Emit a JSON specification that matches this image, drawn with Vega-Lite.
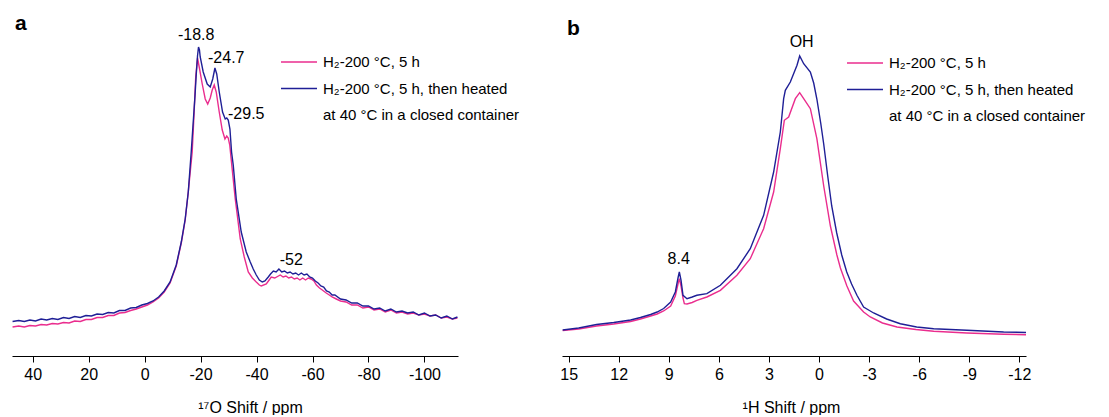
{
  "$schema": "https://vega.github.io/schema/vega-lite/v6.json",
  "background": "white",
  "padding": {"left": 9, "top": 13, "right": 0, "bottom": 0},
  "spacing": 104,
  "bounds": "flush",
  "config": {
    "view": {"stroke": null},
    "font": "Liberation Sans",
    "axis": {
      "grid": false,
      "domainColor": "black",
      "domainWidth": 1,
      "tickColor": "black",
      "tickWidth": 1,
      "labelColor": "black",
      "labelFont": "Liberation Sans",
      "labelFontSize": 16,
      "labelPadding": 4,
      "titleColor": "black",
      "titleFont": "Liberation Sans",
      "titleFontSize": 16,
      "titleFontWeight": "normal",
      "titleBaseline": "middle",
      "titleY": 51
    },
    "legend": {
      "orient": "none",
      "title": null,
      "symbolType": "M-1.8,0H1.8",
      "symbolSize": 400,
      "symbolStrokeWidth": 1.5,
      "labelOffset": 13,
      "rowPadding": 7.5,
      "labelFont": "Liberation Sans",
      "labelFontSize": 15,
      "labelColor": "black",
      "labelLimit": 0,
      "padding": 0
    },
    "title": {"font": "Liberation Sans", "fontSize": 21, "fontWeight": "bold", "color": "black", "anchor": "start", "frame": "group"}
  },
  "datasets": {
    "oxygen": [
      {"sample":"A","shift":47.2,"intensity":31},{"sample":"A","shift":45,"intensity":32},{"sample":"A","shift":43,"intensity":31},{"sample":"A","shift":41,"intensity":32.5},{"sample":"A","shift":39,"intensity":32},{"sample":"A","shift":37,"intensity":33.5},{"sample":"A","shift":35,"intensity":33},{"sample":"A","shift":33,"intensity":34.5},{"sample":"A","shift":31,"intensity":34},{"sample":"A","shift":29,"intensity":35.5},{"sample":"A","shift":27,"intensity":35},{"sample":"A","shift":25,"intensity":37},{"sample":"A","shift":23,"intensity":36.5},{"sample":"A","shift":21,"intensity":38.5},{"sample":"A","shift":19,"intensity":38.5},{"sample":"A","shift":17,"intensity":40.5},{"sample":"A","shift":15,"intensity":40.5},{"sample":"A","shift":13,"intensity":42.5},{"sample":"A","shift":11,"intensity":42.5},{"sample":"A","shift":9,"intensity":45},{"sample":"A","shift":7,"intensity":45.5},{"sample":"A","shift":5,"intensity":47.5},{"sample":"A","shift":3,"intensity":49},{"sample":"A","shift":1,"intensity":51},{"sample":"A","shift":-1,"intensity":53},{"sample":"A","shift":-3,"intensity":56},{"sample":"A","shift":-5,"intensity":60},{"sample":"A","shift":-7,"intensity":66},{"sample":"A","shift":-9.1,"intensity":75},{"sample":"A","shift":-11.3,"intensity":92},{"sample":"A","shift":-13.1,"intensity":115},{"sample":"A","shift":-14.5,"intensity":138},{"sample":"A","shift":-15.6,"intensity":166},{"sample":"A","shift":-17.0,"intensity":206},{"sample":"A","shift":-17.7,"intensity":246},{"sample":"A","shift":-18.26,"intensity":281},{"sample":"A","shift":-18.91,"intensity":300},{"sample":"A","shift":-19.51,"intensity":291},{"sample":"A","shift":-20.59,"intensity":274},{"sample":"A","shift":-21.66,"intensity":259},{"sample":"A","shift":-22.55,"intensity":254},{"sample":"A","shift":-23.45,"intensity":260},{"sample":"A","shift":-24.16,"intensity":268},{"sample":"A","shift":-24.88,"intensity":273},{"sample":"A","shift":-25.59,"intensity":266},{"sample":"A","shift":-26.67,"intensity":246},{"sample":"A","shift":-27.74,"intensity":228},{"sample":"A","shift":-28.71,"intensity":219},{"sample":"A","shift":-29.35,"intensity":222},{"sample":"A","shift":-29.89,"intensity":220},{"sample":"A","shift":-30.42,"intensity":213},{"sample":"A","shift":-30.85,"intensity":201},{"sample":"A","shift":-32.39,"intensity":159},{"sample":"A","shift":-34.18,"intensity":119},{"sample":"A","shift":-35.61,"intensity":101},{"sample":"A","shift":-37.04,"intensity":86},{"sample":"A","shift":-38.5,"intensity":80},{"sample":"A","shift":-39.9,"intensity":76},{"sample":"A","shift":-41.0,"intensity":73},{"sample":"A","shift":-41.69,"intensity":72},{"sample":"A","shift":-43.48,"intensity":74},{"sample":"A","shift":-44.5,"intensity":78},{"sample":"A","shift":-45.26,"intensity":81},{"sample":"A","shift":-46.5,"intensity":80},{"sample":"A","shift":-48.48,"intensity":83},{"sample":"A","shift":-49.5,"intensity":81},{"sample":"A","shift":-50.5,"intensity":82},{"sample":"A","shift":-51.5,"intensity":80},{"sample":"A","shift":-52.5,"intensity":81},{"sample":"A","shift":-53.5,"intensity":79},{"sample":"A","shift":-54.5,"intensity":80},{"sample":"A","shift":-55.5,"intensity":78},{"sample":"A","shift":-56.5,"intensity":80},{"sample":"A","shift":-57.5,"intensity":78},{"sample":"A","shift":-58.5,"intensity":80},{"sample":"A","shift":-59.5,"intensity":79},{"sample":"A","shift":-60.5,"intensity":77},{"sample":"A","shift":-61.4,"intensity":73},{"sample":"A","shift":-62.5,"intensity":70},{"sample":"A","shift":-63.5,"intensity":68},{"sample":"A","shift":-64.9,"intensity":65},{"sample":"A","shift":-66,"intensity":63},{"sample":"A","shift":-67,"intensity":61},{"sample":"A","shift":-68.5,"intensity":59},{"sample":"A","shift":-70,"intensity":57},{"sample":"A","shift":-72,"intensity":56},{"sample":"A","shift":-74,"intensity":53},{"sample":"A","shift":-76,"intensity":53},{"sample":"A","shift":-78,"intensity":50},{"sample":"A","shift":-80,"intensity":51},{"sample":"A","shift":-82,"intensity":48},{"sample":"A","shift":-84,"intensity":49},{"sample":"A","shift":-86,"intensity":46},{"sample":"A","shift":-88,"intensity":48},{"sample":"A","shift":-90,"intensity":45},{"sample":"A","shift":-92,"intensity":46},{"sample":"A","shift":-94,"intensity":44},{"sample":"A","shift":-96,"intensity":45},{"sample":"A","shift":-98,"intensity":43},{"sample":"A","shift":-100,"intensity":44},{"sample":"A","shift":-102,"intensity":42},{"sample":"A","shift":-104,"intensity":43},{"sample":"A","shift":-106,"intensity":40},{"sample":"A","shift":-108,"intensity":41},{"sample":"A","shift":-110,"intensity":39},{"sample":"A","shift":-111.8,"intensity":40},
      {"sample":"B","shift":47.2,"intensity":36.5},{"sample":"B","shift":45,"intensity":37.5},{"sample":"B","shift":43,"intensity":36.5},{"sample":"B","shift":41,"intensity":38},{"sample":"B","shift":39,"intensity":37},{"sample":"B","shift":37,"intensity":39},{"sample":"B","shift":35,"intensity":38},{"sample":"B","shift":33,"intensity":39.5},{"sample":"B","shift":31,"intensity":38.5},{"sample":"B","shift":29,"intensity":40.5},{"sample":"B","shift":27,"intensity":39.5},{"sample":"B","shift":25,"intensity":41.5},{"sample":"B","shift":23,"intensity":40.5},{"sample":"B","shift":21,"intensity":42.5},{"sample":"B","shift":19,"intensity":42},{"sample":"B","shift":17,"intensity":44},{"sample":"B","shift":15,"intensity":43.5},{"sample":"B","shift":13,"intensity":45.5},{"sample":"B","shift":11,"intensity":45},{"sample":"B","shift":9,"intensity":47.5},{"sample":"B","shift":7,"intensity":47.5},{"sample":"B","shift":5,"intensity":50},{"sample":"B","shift":3,"intensity":50.5},{"sample":"B","shift":1,"intensity":53},{"sample":"B","shift":-1,"intensity":54.5},{"sample":"B","shift":-3,"intensity":57},{"sample":"B","shift":-5,"intensity":61},{"sample":"B","shift":-7,"intensity":67},{"sample":"B","shift":-9.1,"intensity":76},{"sample":"B","shift":-11.3,"intensity":93},{"sample":"B","shift":-13.1,"intensity":116},{"sample":"B","shift":-14.5,"intensity":139},{"sample":"B","shift":-15.6,"intensity":166},{"sample":"B","shift":-16.65,"intensity":206},{"sample":"B","shift":-17.37,"intensity":236},{"sample":"B","shift":-18.0,"intensity":262},{"sample":"B","shift":-18.44,"intensity":283},{"sample":"B","shift":-18.9,"intensity":302},{"sample":"B","shift":-19.26,"intensity":311},{"sample":"B","shift":-19.6,"intensity":308},{"sample":"B","shift":-19.87,"intensity":301},{"sample":"B","shift":-20.94,"intensity":286},{"sample":"B","shift":-22.37,"intensity":274},{"sample":"B","shift":-23.45,"intensity":271},{"sample":"B","shift":-24.34,"intensity":279},{"sample":"B","shift":-25.13,"intensity":290},{"sample":"B","shift":-25.77,"intensity":284},{"sample":"B","shift":-26.67,"intensity":266},{"sample":"B","shift":-27.85,"intensity":246},{"sample":"B","shift":-28.81,"intensity":239},{"sample":"B","shift":-29.35,"intensity":240},{"sample":"B","shift":-29.89,"intensity":238},{"sample":"B","shift":-30.49,"intensity":229},{"sample":"B","shift":-31.07,"intensity":206},{"sample":"B","shift":-31.67,"intensity":193},{"sample":"B","shift":-32.75,"intensity":159},{"sample":"B","shift":-34.53,"intensity":126},{"sample":"B","shift":-36.32,"intensity":106},{"sample":"B","shift":-37.75,"intensity":96},{"sample":"B","shift":-38.82,"intensity":89},{"sample":"B","shift":-39.9,"intensity":83},{"sample":"B","shift":-41,"intensity":78},{"sample":"B","shift":-42.05,"intensity":76},{"sample":"B","shift":-43,"intensity":77},{"sample":"B","shift":-44.19,"intensity":81},{"sample":"B","shift":-45,"intensity":84},{"sample":"B","shift":-46,"intensity":87},{"sample":"B","shift":-47,"intensity":86},{"sample":"B","shift":-48,"intensity":89},{"sample":"B","shift":-49,"intensity":86},{"sample":"B","shift":-50,"intensity":87},{"sample":"B","shift":-51,"intensity":85},{"sample":"B","shift":-52,"intensity":86},{"sample":"B","shift":-53,"intensity":84},{"sample":"B","shift":-54,"intensity":85},{"sample":"B","shift":-55,"intensity":83},{"sample":"B","shift":-56,"intensity":85},{"sample":"B","shift":-57,"intensity":83},{"sample":"B","shift":-58,"intensity":84},{"sample":"B","shift":-59,"intensity":81},{"sample":"B","shift":-60,"intensity":80},{"sample":"B","shift":-61,"intensity":77},{"sample":"B","shift":-62,"intensity":75},{"sample":"B","shift":-63,"intensity":72},{"sample":"B","shift":-64,"intensity":71},{"sample":"B","shift":-65,"intensity":67},{"sample":"B","shift":-66,"intensity":66},{"sample":"B","shift":-67,"intensity":63},{"sample":"B","shift":-68,"intensity":63},{"sample":"B","shift":-70,"intensity":59},{"sample":"B","shift":-72,"intensity":58},{"sample":"B","shift":-74,"intensity":55},{"sample":"B","shift":-76,"intensity":55},{"sample":"B","shift":-78,"intensity":52},{"sample":"B","shift":-80,"intensity":52},{"sample":"B","shift":-82,"intensity":49},{"sample":"B","shift":-84,"intensity":50},{"sample":"B","shift":-86,"intensity":47},{"sample":"B","shift":-88,"intensity":49},{"sample":"B","shift":-90,"intensity":46},{"sample":"B","shift":-92,"intensity":47},{"sample":"B","shift":-94,"intensity":45},{"sample":"B","shift":-96,"intensity":46},{"sample":"B","shift":-98,"intensity":43},{"sample":"B","shift":-100,"intensity":45},{"sample":"B","shift":-102,"intensity":42},{"sample":"B","shift":-104,"intensity":43},{"sample":"B","shift":-106,"intensity":40},{"sample":"B","shift":-108,"intensity":42},{"sample":"B","shift":-110,"intensity":39},{"sample":"B","shift":-111.8,"intensity":41}
    ],
    "oxygenLabels": [
      {"shift":-18.44,"intensity":322.7,"label":"-18.8"},
      {"shift":-29.17,"intensity":300,"label":"-24.7"},
      {"shift":-36.32,"intensity":244.3,"label":"-29.5"},
      {"shift":-52.42,"intensity":98,"label":"-52"}
    ],
    "proton": [
      {"sample":"A","shift":15.36,"intensity":27.5},{"sample":"A","shift":14.4,"intensity":29},{"sample":"A","shift":13.33,"intensity":32},{"sample":"A","shift":12.3,"intensity":34},{"sample":"A","shift":11.29,"intensity":36.5},{"sample":"A","shift":10.7,"intensity":39},{"sample":"A","shift":10.09,"intensity":42},{"sample":"A","shift":9.7,"intensity":44},{"sample":"A","shift":9.31,"intensity":47},{"sample":"A","shift":8.89,"intensity":52},{"sample":"A","shift":8.61,"intensity":62},{"sample":"A","shift":8.45,"intensity":74},{"sample":"A","shift":8.37,"intensity":79.3},{"sample":"A","shift":8.27,"intensity":72},{"sample":"A","shift":8.15,"intensity":60},{"sample":"A","shift":8.07,"intensity":54.3},{"sample":"A","shift":7.91,"intensity":54},{"sample":"A","shift":7.6,"intensity":55.5},{"sample":"A","shift":7.32,"intensity":57.7},{"sample":"A","shift":6.72,"intensity":61},{"sample":"A","shift":5.91,"intensity":67.7},{"sample":"A","shift":4.92,"intensity":82.7},{"sample":"A","shift":4.12,"intensity":99.3},{"sample":"A","shift":3.32,"intensity":129.3},{"sample":"A","shift":2.72,"intensity":166},{"sample":"A","shift":2.32,"intensity":209.3},{"sample":"A","shift":2.08,"intensity":237.7},{"sample":"A","shift":1.82,"intensity":241},{"sample":"A","shift":1.42,"intensity":259.3},{"sample":"A","shift":1.16,"intensity":265.3},{"sample":"A","shift":0.92,"intensity":259.3},{"sample":"A","shift":0.52,"intensity":249.3},{"sample":"A","shift":0.13,"intensity":219.3},{"sample":"A","shift":-0.28,"intensity":172},{"sample":"A","shift":-0.68,"intensity":132},{"sample":"A","shift":-1.07,"intensity":103},{"sample":"A","shift":-1.28,"intensity":90},{"sample":"A","shift":-1.67,"intensity":72},{"sample":"A","shift":-2.07,"intensity":57},{"sample":"A","shift":-2.67,"intensity":46},{"sample":"A","shift":-3.07,"intensity":41},{"sample":"A","shift":-3.8,"intensity":35},{"sample":"A","shift":-4.67,"intensity":31},{"sample":"A","shift":-5.8,"intensity":28.5},{"sample":"A","shift":-6.87,"intensity":26.7},{"sample":"A","shift":-8.86,"intensity":25},{"sample":"A","shift":-11.06,"intensity":23.7},{"sample":"A","shift":-12.4,"intensity":23.3},
      {"sample":"B","shift":15.36,"intensity":28},{"sample":"B","shift":14.4,"intensity":30},{"sample":"B","shift":13.33,"intensity":33.5},{"sample":"B","shift":12.3,"intensity":35.5},{"sample":"B","shift":11.29,"intensity":38},{"sample":"B","shift":10.7,"intensity":40.5},{"sample":"B","shift":10.09,"intensity":43.5},{"sample":"B","shift":9.7,"intensity":46},{"sample":"B","shift":9.31,"intensity":49.5},{"sample":"B","shift":8.89,"intensity":56},{"sample":"B","shift":8.61,"intensity":66},{"sample":"B","shift":8.45,"intensity":80},{"sample":"B","shift":8.37,"intensity":86},{"sample":"B","shift":8.27,"intensity":78},{"sample":"B","shift":8.15,"intensity":62.7},{"sample":"B","shift":7.91,"intensity":59.3},{"sample":"B","shift":7.6,"intensity":61},{"sample":"B","shift":7.32,"intensity":62.7},{"sample":"B","shift":6.72,"intensity":64.3},{"sample":"B","shift":5.91,"intensity":72.7},{"sample":"B","shift":4.92,"intensity":89.3},{"sample":"B","shift":4.12,"intensity":109.3},{"sample":"B","shift":3.32,"intensity":142.7},{"sample":"B","shift":2.72,"intensity":186},{"sample":"B","shift":2.32,"intensity":226},{"sample":"B","shift":2.12,"intensity":259.3},{"sample":"B","shift":2.02,"intensity":267.7},{"sample":"B","shift":1.72,"intensity":276},{"sample":"B","shift":1.32,"intensity":292.7},{"sample":"B","shift":1.16,"intensity":302},{"sample":"B","shift":0.92,"intensity":294.3},{"sample":"B","shift":0.52,"intensity":286},{"sample":"B","shift":0.32,"intensity":275},{"sample":"B","shift":0.13,"intensity":259},{"sample":"B","shift":-0.1,"intensity":235},{"sample":"B","shift":-0.28,"intensity":214},{"sample":"B","shift":-0.52,"intensity":182},{"sample":"B","shift":-0.76,"intensity":152},{"sample":"B","shift":-1.06,"intensity":125},{"sample":"B","shift":-1.36,"intensity":103},{"sample":"B","shift":-1.66,"intensity":86},{"sample":"B","shift":-1.95,"intensity":74},{"sample":"B","shift":-2.27,"intensity":62.7},{"sample":"B","shift":-2.67,"intensity":51},{"sample":"B","shift":-3.27,"intensity":45},{"sample":"B","shift":-4.05,"intensity":39},{"sample":"B","shift":-4.87,"intensity":34.3},{"sample":"B","shift":-5.85,"intensity":31},{"sample":"B","shift":-6.87,"intensity":29.3},{"sample":"B","shift":-8.86,"intensity":27.7},{"sample":"B","shift":-11.06,"intensity":26},{"sample":"B","shift":-12.4,"intensity":25.5}
    ],
    "protonLabels": [
      {"shift":8.41,"intensity":99.3,"label":"8.4"},
      {"shift":1.04,"intensity":316,"label":"OH"}
    ]
  },
  "hconcat": [
    {
      "width": 446,
      "height": 324,
      "title": {"text": "a", "dx": 3, "offset": -7},
      "layer": [
        {
          "data": {"name": "oxygen"},
          "mark": {"type": "line", "strokeWidth": 1.4},
          "encoding": {
            "x": {
              "field": "shift", "type": "quantitative",
              "scale": {"domain": [47.4, -112], "nice": false, "zero": false},
              "axis": {
                "values": [40, 30, 20, 10, 0, -10, -20, -30, -40, -50, -60, -70, -80, -90, -100, -110],
                "labelExpr": "datum.value % 20 === 0 ? '' + datum.value : ''",
                "tickSize": {"condition": {"test": "datum.value % 20 === 0", "value": 6}, "value": 3.5},
                "title": "¹⁷O Shift / ppm",
                "titleX": 238
              }
            },
            "y": {"field": "intensity", "type": "quantitative", "scale": {"domain": [2, 326], "nice": false, "zero": false}, "axis": null},
            "color": {
              "field": "sample", "type": "nominal",
              "scale": {"domain": ["A", "B", "C"], "range": ["#ea2d8e", "#1f1f96", "rgba(0,0,0,0)"]},
              "legend": {
                "legendX": 276, "legendY": 19,
                "labelExpr": "datum.value === 'A' ? 'H₂-200 °C, 5 h' : datum.value === 'B' ? 'H₂-200 °C, 5 h, then heated' : 'at 40 °C in a closed container'"
              }
            }
          }
        },
        {
          "data": {"name": "oxygenLabels"},
          "mark": {"type": "text", "fontSize": 16, "font": "Liberation Sans", "color": "black", "align": "center", "baseline": "middle"},
          "encoding": {
            "x": {"field": "shift", "type": "quantitative"},
            "y": {"field": "intensity", "type": "quantitative"},
            "text": {"field": "label"}
          }
        }
      ]
    },
    {
      "width": 464,
      "height": 324,
      "title": {"text": "b", "dx": 5, "offset": -7},
      "layer": [
        {
          "data": {"name": "proton"},
          "mark": {"type": "line", "strokeWidth": 1.4},
          "encoding": {
            "x": {
              "field": "shift", "type": "quantitative",
              "scale": {"domain": [15.4, -12.4], "nice": false, "zero": false},
              "axis": {
                "values": [15, 13.5, 12, 10.5, 9, 7.5, 6, 4.5, 3, 1.5, 0, -1.5, -3, -4.5, -6, -7.5, -9, -10.5, -12],
                "labelExpr": "datum.value % 3 === 0 ? '' + datum.value : ''",
                "tickSize": {"condition": {"test": "datum.value % 3 === 0", "value": 6}, "value": 3.5},
                "title": "¹H Shift / ppm",
                "titleX": 229
              }
            },
            "y": {"field": "intensity", "type": "quantitative", "scale": {"domain": [2, 326], "nice": false, "zero": false}, "axis": null},
            "color": {
              "field": "sample", "type": "nominal",
              "scale": {"domain": ["A", "B", "C"], "range": ["#ea2d8e", "#1f1f96", "rgba(0,0,0,0)"]},
              "legend": {
                "legendX": 292, "legendY": 20,
                "labelExpr": "datum.value === 'A' ? 'H₂-200 °C, 5 h' : datum.value === 'B' ? 'H₂-200 °C, 5 h, then heated' : 'at 40 °C in a closed container'"
              }
            }
          }
        },
        {
          "data": {"name": "protonLabels"},
          "mark": {"type": "text", "fontSize": 16, "font": "Liberation Sans", "color": "black", "align": "center", "baseline": "middle"},
          "encoding": {
            "x": {"field": "shift", "type": "quantitative"},
            "y": {"field": "intensity", "type": "quantitative"},
            "text": {"field": "label"}
          }
        }
      ]
    }
  ],
  "resolve": {"scale": {"color": "independent", "x": "independent", "y": "independent"}, "legend": {"color": "independent"}}
}
